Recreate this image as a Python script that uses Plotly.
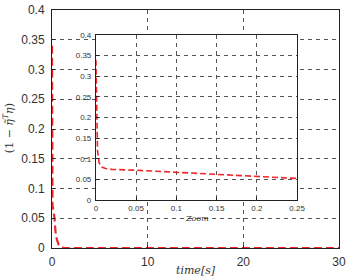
import plotly.graph_objects as go

# data
t = [0, 0.001, 0.002, 0.004, 0.007, 0.012, 0.02, 0.05, 0.1, 0.15, 0.2, 0.25,
     0.4, 0.7, 1.2, 10, 20, 30]
err = [0.34, 0.2, 0.12, 0.09, 0.08, 0.076, 0.074, 0.072, 0.067, 0.061, 0.057, 0.052,
       0.02, 0.005, 0.0, 0, 0, 0]

main_xticks = [0, 10, 20, 30]
main_yticks = [0, 0.05, 0.1, 0.15, 0.2, 0.25, 0.3, 0.35, 0.4]
inset_xticks = [0, 0.05, 0.1, 0.15, 0.2, 0.25]
inset_yticks = [0, 0.05, 0.1, 0.15, 0.2, 0.25, 0.3, 0.35, 0.4]

RED = "#f0262a"
GRID = "#555555"
TXT = "#333333"

fig = go.Figure()
fig.add_trace(go.Scatter(x=t, y=err, mode="lines", xaxis="x", yaxis="y",
                         line=dict(color=RED, width=2.2, dash="8px,4px"),
                         showlegend=False, cliponaxis=False))
fig.add_trace(go.Scatter(x=t, y=err, mode="lines", xaxis="x2", yaxis="y2",
                         line=dict(color=RED, width=1.6, dash="6px,3px"),
                         showlegend=False))

common = dict(showline=True, mirror=True, linecolor="#222222", linewidth=1,
              ticks="inside", ticklen=3, tickcolor="#222222",
              showgrid=True, gridcolor=GRID, griddash="4px,4px", gridwidth=0.6,
              zeroline=False, automargin=False)

SERIF = "DejaVu Serif, serif"

fig.update_layout(
    width=347, height=280,
    margin=dict(l=52, r=8, t=10, b=32),
    paper_bgcolor="white", plot_bgcolor="white",
    font=dict(family="Liberation Sans, Arial, sans-serif", color=TXT),
    xaxis=dict(range=[0, 30], tickvals=main_xticks, ticktext=[str(v) for v in main_xticks],
               tickfont=dict(size=12), domain=[0, 1], ticklabelstandoff=3, **common),
    yaxis=dict(range=[0, 0.4], tickvals=main_yticks,
               ticktext=["0", "0.05", "0.1", "0.15", "0.2", "0.25", "0.3", "0.35", "0.4"],
               tickfont=dict(size=12), domain=[0, 1], ticklabelstandoff=4, **common),
    xaxis2=dict(range=[0, 0.25], tickvals=inset_xticks,
                ticktext=["0", "0.05", "0.1", "0.15", "0.2", "0.25"],
                tickfont=dict(size=8), domain=[0.153, 0.854], anchor="y2",
                ticklabelstandoff=0, **common),
    yaxis2=dict(range=[0, 0.4], tickvals=inset_yticks,
                ticktext=["0", "0.05", "0.1", "0.15", "0.2", "0.25", "0.3", "0.35", "0.4"],
                tickfont=dict(size=8), domain=[0.202, 0.895], anchor="x2",
                ticklabelstandoff=2, **common),
    shapes=[dict(type="rect", xref="x2 domain", yref="y2 domain", x0=0, x1=1, y0=0, y1=1,
                 fillcolor="white", line=dict(width=0), layer="below")],
    annotations=[
        dict(text="<i>time[s]</i>", xref="paper", yref="paper", x=0.5, y=-0.0966,
             xanchor="center", yanchor="middle", showarrow=False,
             font=dict(family=SERIF, size=11, color=TXT)),
        dict(text="<i>Zoom</i>", xref="paper", yref="paper", x=0.5035, y=0.126,
             xanchor="center", yanchor="middle", showarrow=False,
             font=dict(family=SERIF, size=8, color=TXT)),
        dict(text="(1 − <i>η̃</i><sup><i>T</i></sup><i>η</i>)", xref="paper", yref="paper",
             x=-0.153, y=0.504, xanchor="center", yanchor="middle", textangle=-90,
             showarrow=False, font=dict(family=SERIF, size=11, color=TXT)),
    ],
)

fig.write_html("out.html")
